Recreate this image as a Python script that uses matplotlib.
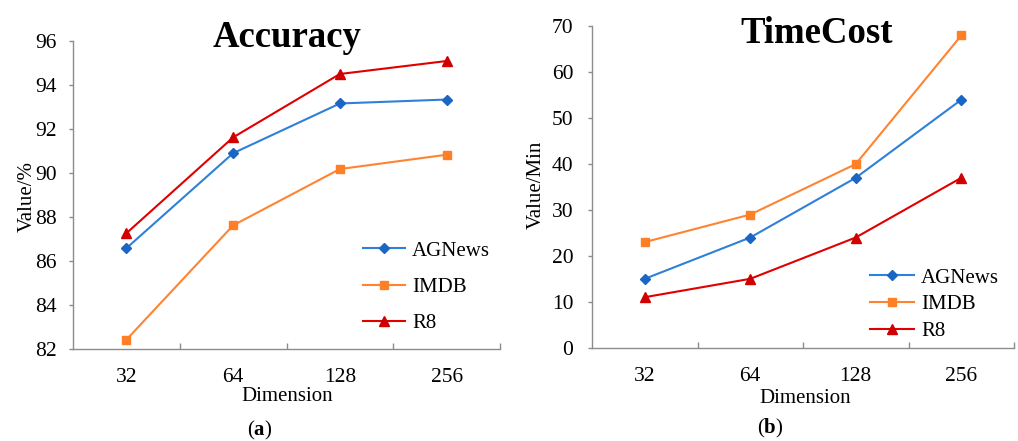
import matplotlib
matplotlib.use('Agg')
import matplotlib.pyplot as plt

plt.rcParams['font.family'] = ['Liberation Serif', 'DejaVu Serif']
plt.rcParams['mathtext.fontset'] = 'custom'
plt.rcParams['mathtext.rm'] = 'Liberation Serif'
plt.rcParams['mathtext.bf'] = 'Liberation Serif:bold'

# data
dims = ['32', '64', '128', '256']
series = ['AGNews', 'IMDB', 'R8']

acc_agnews = [86.58, 90.90, 93.16, 93.34]
acc_imdb = [82.42, 87.62, 90.18, 90.83]
acc_r8 = [87.26, 91.62, 94.50, 95.09]

time_agnews = [15, 24, 37, 54]
time_imdb = [23, 29, 40, 68]
time_r8 = [11, 15, 24, 37]

line_colors = ['#2E80D8', '#FF8431', '#E00000']
marker_colors = ['#1B66C2', '#FF7F27', '#D00000']
markers = ['D', 's', '^']
msizes = [5, 6, 6.5]

W, H = 1018, 441
fig = plt.figure(figsize=(W / 100, H / 100), dpi=100)

ax1 = fig.add_axes([73 / W, 1 - 349 / H, 427 / W, 308 / H])
ax2 = fig.add_axes([592 / W, 1 - 347.7 / H, 422 / W, 321.4 / H])

x = list(range(len(dims)))


def style_axis(ax, ypad, xpad):
    for s in ['top', 'right']:
        ax.spines[s].set_visible(False)
    for s in ['left', 'bottom']:
        ax.spines[s].set_color('#8C8C8C')
        ax.spines[s].set_linewidth(1.0)
    ax.set_xlim(-0.5, 3.5)
    ax.set_xticks(x)
    ax.set_xticklabels(dims)
    ax.set_xticks([0.5, 1.5, 2.5, 3.5], minor=True)
    ax.tick_params(axis='x', which='major', length=0, pad=xpad, labelsize=15.5)
    ax.tick_params(axis='x', which='minor', direction='in', length=4,
                   color='#8C8C8C', width=1.0)
    ax.tick_params(axis='y', which='major', direction='out', length=3,
                   color='#8C8C8C', width=1.0, pad=ypad, labelsize=15.5)


for ax, data in [(ax1, [acc_agnews, acc_imdb, acc_r8]),
                 (ax2, [time_agnews, time_imdb, time_r8])]:
    for i, name in enumerate(series):
        ax.plot(x, data[i], color=line_colors[i], lw=1.5, marker=markers[i],
                ms=msizes[i], markerfacecolor=marker_colors[i],
                markeredgecolor=marker_colors[i], label=name)

style_axis(ax1, 8.5, 13.5)
ax1.set_ylim(82, 96)
ax1.set_yticks([82, 84, 86, 88, 90, 92, 94, 96])

style_axis(ax2, 10.5, 14)
ax2.set_ylim(0, 70)
ax2.set_yticks(range(0, 71, 10))

ax1.legend(loc='upper left', bbox_to_anchor=(363 / W, 1 - 241 / H),
           bbox_transform=fig.transFigure, frameon=False, fontsize=15,
           handlelength=2.0, handletextpad=0.35, labelspacing=0.8,
           borderpad=0, borderaxespad=0)
ax2.legend(loc='upper left', bbox_to_anchor=(870 / W, 1 - 268 / H),
           bbox_transform=fig.transFigure, frameon=False, fontsize=15,
           handlelength=2.1, handletextpad=0.35, labelspacing=0.35,
           borderpad=0, borderaxespad=0)

# titles and labels
fig.text(287 / W, 1 - 46.7 / H, 'Accuracy', ha='center', va='baseline',
         fontsize=26.5, fontweight='bold')
fig.text(816.7 / W, 1 - 43 / H, 'TimeCost', ha='center', va='baseline',
         fontsize=26.5, fontweight='bold')

fig.text(287 / W, 1 - 401 / H, 'Dimension', ha='center', va='baseline', fontsize=15)
fig.text(805 / W, 1 - 403 / H, 'Dimension', ha='center', va='baseline', fontsize=15)

fig.text(27 / W, 1 - 197 / H, 'Value/%', ha='center', va='center',
         rotation=90, fontsize=15)
fig.text(536 / W, 1 - 185 / H, 'Value/Min', ha='center', va='center',
         rotation=90, fontsize=15)

fig.text(260 / W, 1 - 430 / H, r'($\mathbf{a}$)', ha='center', va='center',
         fontsize=15)
fig.text(770 / W, 1 - 428 / H, r'($\mathbf{b}$)', ha='center', va='center',
         fontsize=15)

fig.savefig('out.png', dpi=100)
